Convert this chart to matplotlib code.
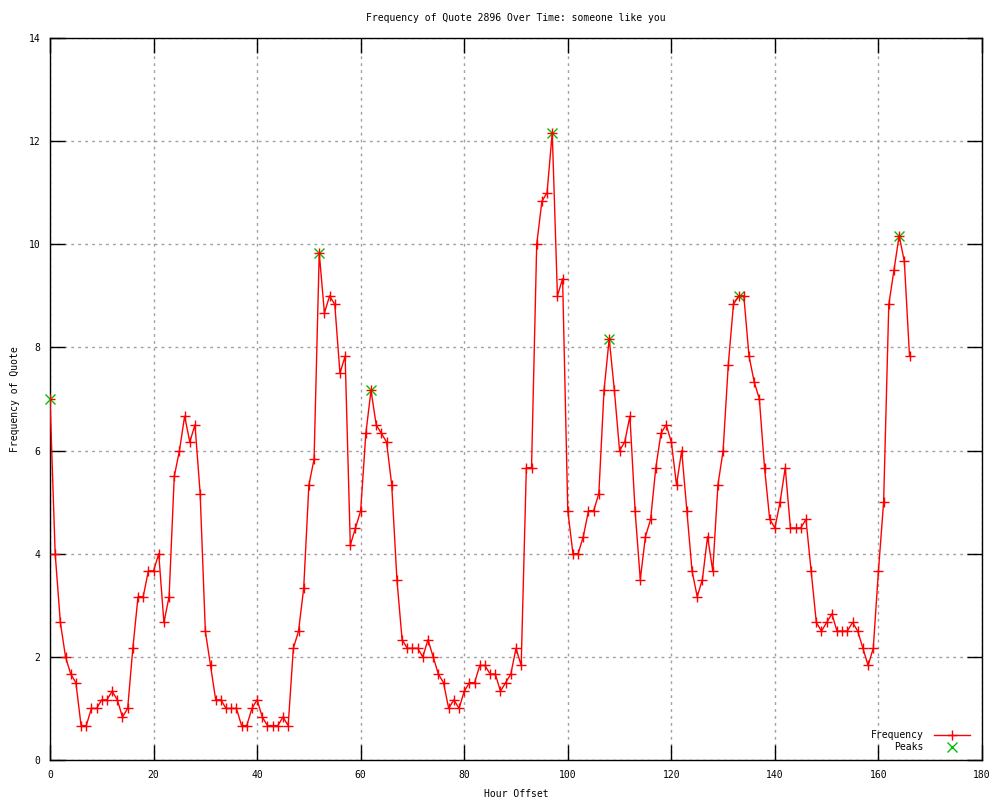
import matplotlib
matplotlib.use("Agg")
import matplotlib.pyplot as plt

hours = list(range(167))
frequency = [
    7.0, 4.0, 2.667, 2.0, 1.667, 1.5, 0.667, 0.667, 1.0, 1.0,
    1.167, 1.167, 1.333, 1.167, 0.833, 1.0, 2.167, 3.167, 3.167, 3.667,
    3.667, 4.0, 2.667, 3.167, 5.5, 6.0, 6.667, 6.167, 6.5, 5.167,
    2.5, 1.833, 1.167, 1.167, 1.0, 1.0, 1.0, 0.667, 0.667, 1.0,
    1.167, 0.833, 0.667, 0.667, 0.667, 0.833, 0.667, 2.167, 2.5, 3.333,
    5.333, 5.833, 9.833, 8.667, 9.0, 8.833, 7.5, 7.833, 4.167, 4.5,
    4.833, 6.333, 7.167, 6.5, 6.333, 6.167, 5.333, 3.5, 2.333, 2.167,
    2.167, 2.167, 2.0, 2.333, 2.0, 1.667, 1.5, 1.0, 1.167, 1.0,
    1.333, 1.5, 1.5, 1.833, 1.833, 1.667, 1.667, 1.333, 1.5, 1.667,
    2.167, 1.833, 5.667, 5.667, 10.0, 10.833, 11.0, 12.167, 9.0, 9.333,
    4.833, 4.0, 4.0, 4.333, 4.833, 4.833, 5.167, 7.167, 8.167, 7.167,
    6.0, 6.167, 6.667, 4.833, 3.5, 4.333, 4.667, 5.667, 6.333, 6.5,
    6.167, 5.333, 6.0, 4.833, 3.667, 3.167, 3.5, 4.333, 3.667, 5.333,
    6.0, 7.667, 8.833, 9.0, 9.0, 7.833, 7.333, 7.0, 5.667, 4.667,
    4.5, 5.0, 5.667, 4.5, 4.5, 4.5, 4.667, 3.667, 2.667, 2.5,
    2.667, 2.833, 2.5, 2.5, 2.5, 2.667, 2.5, 2.167, 1.833, 2.167,
    3.667, 5.0, 8.833, 9.5, 10.167, 9.667, 7.833,
]
peak_hours = [0, 52, 62, 97, 108, 133, 164]
peak_values = [7.0, 9.833, 7.167, 12.167, 8.167, 9.0, 10.167]

x_ticks = [0, 20, 40, 60, 80, 100, 120, 140, 160, 180]
y_ticks = [0, 2, 4, 6, 8, 10, 12, 14]

title = "Frequency of Quote 2896 Over Time: someone like you"
xlabel = "Hour Offset"
ylabel = "Frequency of Quote"

FONT = "DejaVu Sans Mono"
FS = 7

fig = plt.figure(figsize=(10, 8), dpi=100)
ax = fig.add_axes([0.05, 0.05, 0.932, 0.9025])

ax.plot(hours, frequency, color="#ff0000", linewidth=1.0, marker="+",
        markersize=6.5, markeredgewidth=1.0, label="Frequency", zorder=4,
        clip_on=True)
ax.plot(peak_hours, peak_values, linestyle="none", color="#00c000",
        marker="x", markersize=6.5, markeredgewidth=1.0, label="Peaks",
        zorder=3, clip_on=False)

ax.set_xlim(0, 180)
ax.set_ylim(0, 14)
ax.set_xticks(x_ticks)
ax.set_yticks(y_ticks)
ax.set_xticklabels([str(t) for t in x_ticks], fontfamily=FONT, fontsize=FS)
ax.set_yticklabels([str(t) for t in y_ticks], fontfamily=FONT, fontsize=FS)

ax.tick_params(direction="in", length=11, width=1, top=True, right=True,
               colors="black", pad=7)
ax.grid(True, color="#a0a0a0", linestyle=(0, (2, 3)), linewidth=1.0)
ax.set_axisbelow(True)
for s in ax.spines.values():
    s.set_linewidth(1.0)
    s.set_color("black")

ax.set_title(title, fontfamily=FONT, fontsize=FS, pad=12)
ax.set_xlabel(xlabel, fontfamily=FONT, fontsize=FS, labelpad=7)
ax.set_ylabel(ylabel, fontfamily=FONT, fontsize=FS, labelpad=6)

leg = ax.legend(loc="lower right", bbox_to_anchor=(0.996, 0.0),
                frameon=False, markerfirst=False,
                prop={"family": FONT, "size": FS}, handlelength=3.8,
                labelspacing=0.2, handletextpad=1.0, borderaxespad=0.4)

fig.savefig("out.png", dpi=100)
